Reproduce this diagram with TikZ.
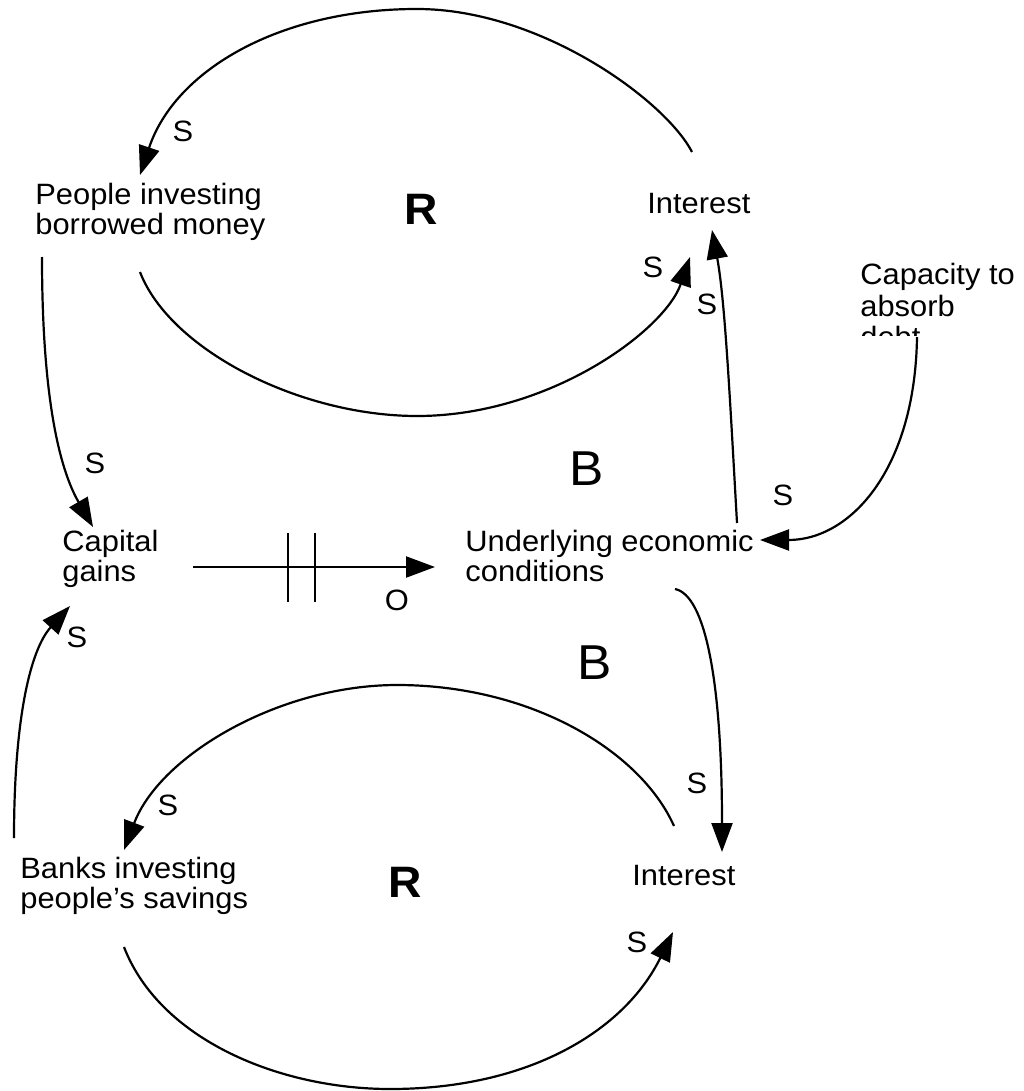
\documentclass[tikz,border=0pt]{standalone}
\usepackage{fontspec}
\setmainfont{Liberation Sans}[FakeStretch=1.05]
\usetikzlibrary{arrows.meta}
\begin{document}
\begin{tikzpicture}[x=0.5pt,y=-0.5pt,
  lbl/.style={inner sep=0pt, anchor=north west, align=left, font=\fontsize{14.7}{15}\selectfont},
  lblwide/.style={lbl, font=\fontsize{14.7}{15.8}\selectfont},
  sgn/.style={inner sep=0pt, font=\fontsize{14.7}{15}\selectfont},
  loopR/.style={inner sep=0pt, font=\fontsize{22}{22}\selectfont\bfseries},
  loopB/.style={inner sep=0pt, font=\fontsize{24.5}{24.5}\selectfont},
  link/.style={line width=1.1pt, -{Triangle[length=14.5pt,width=10.5pt]}},
  delaybar/.style={line width=1.1pt},
]
\useasboundingbox (0,0) rectangle (1023,1091);

% variables
\node[lbl] (pim) at (35,183) {People investing\\borrowed money};
\node[lbl] (int1) at (647,193) {Interest};
\begin{scope}
  \clip (840,240) rectangle (1023,335);
  \node[lblwide] (cap) at (860,263) {Capacity to\\absorb\\debt};
\end{scope}
\node[lbl] (cg) at (62,530) {Capital\\gains};
\node[lbl] (uec) at (465,530) {Underlying economic\\conditions};
\node[lbl] (bis) at (20,857) {Banks investing\\people’s savings};
\node[lbl] (int2) at (632,865) {Interest};

% loop labels
\node[loopR] (r1) at (421,209) {R};
\node[loopB] (b1) at (587,469) {B};
\node[loopB] (b2) at (595,663) {B};
\node[loopR] (r2) at (405,882) {R};

% polarity labels
\node[sgn] (s1) at (183,131) {S};
\node[sgn] (s2) at (653,267) {S};
\node[sgn] (s3) at (707,304) {S};
\node[sgn] (s4) at (95,463) {S};
\node[sgn] (s5) at (77,637) {S};
\node[sgn] (s6) at (783,495) {S};
\node[sgn] (s7) at (697,783) {S};
\node[sgn] (s8) at (168,805) {S};
\node[sgn] (s9) at (637,942) {S};
\node[sgn] (o1) at (397,600) {O};

% connectors
\draw[link] ([shift={(45,-41)}]int1.north west) .. controls (665,100) and (540,9) .. (417,9)
  .. controls (280,9) and (175,70) .. ([shift={(105,-8)}]pim.north west);
\draw[link] ([shift={(105,89)}]pim.north west) .. controls (170,350) and (300,416) .. (417,416)
  .. controls (550,416) and (665,330) .. ([shift={(43,64)}]int1.north west);
\draw[link] ([shift={(7,74)}]pim.north west) .. controls (42,400) and (60,470) .. ([shift={(31,-3)}]cg.north west);
\draw[link] ([shift={(272,-7)}]uec.north west) .. controls (730,400) and (725,300) .. ([shift={(65,37)}]int1.north west);
\draw[link] ([shift={(57,74)}]cap.north west) .. controls (915,470) and (850,540) .. ([shift={(295,10)}]uec.north west);
\draw[link] ([shift={(131,37)}]cg.north west) -- coordinate[pos=0.393] (d1) coordinate[pos=0.504] (d2) ([shift={(-30,37)}]uec.north west);
\draw[delaybar] ([shift={(0,-34)}]d1) -- ([shift={(0,35)}]d1);
\draw[delaybar] ([shift={(0,-34)}]d2) -- ([shift={(0,35)}]d2);
\draw[link] ([shift={(210,59)}]uec.north west) .. controls (705,595) and (722,680) .. ([shift={(90,-13)}]int2.north west);
\draw[link] ([shift={(42,-39)}]int2.north west) .. controls (640,750) and (530,685) .. (397,685)
  .. controls (280,685) and (160,755) .. ([shift={(104,-7)}]bis.north west);
\draw[link] ([shift={(104,90)}]bis.north west) .. controls (160,1040) and (280,1089) .. (390,1089)
  .. controls (530,1089) and (625,1030) .. ([shift={(41,67)}]int2.north west);
\draw[link] ([shift={(-6,-19)}]bis.north west) .. controls (14,720) and (30,650) .. ([shift={(8,76)}]cg.north west);
\end{tikzpicture}
\end{document}
